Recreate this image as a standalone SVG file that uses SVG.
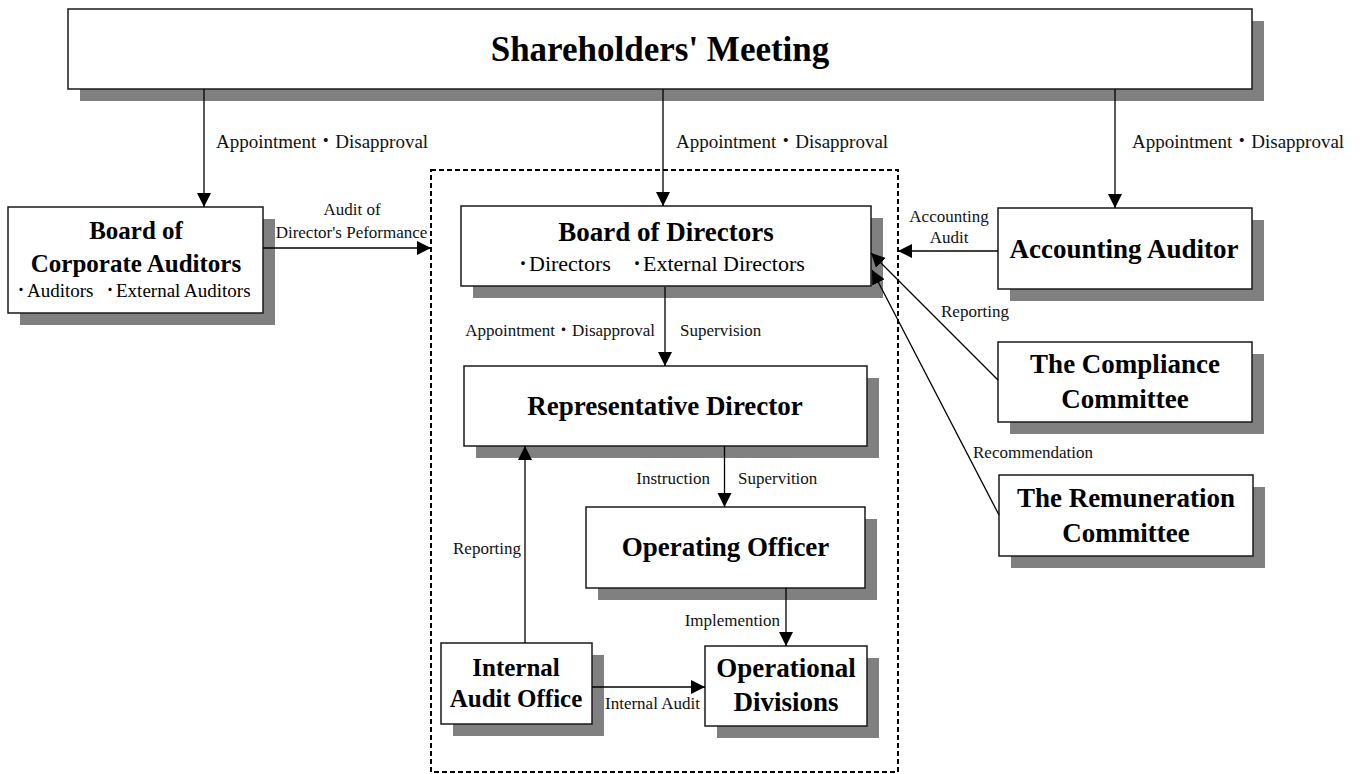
<svg xmlns="http://www.w3.org/2000/svg" width="1364" height="774" viewBox="0 0 1364 774">
  <defs>
    <style>
      .box { fill: #ffffff; stroke: #1a1a1a; stroke-width: 1.5; }
      .shadow { fill: #808080; stroke: none; }
      .title { font-family: "Liberation Serif", "Noto Sans CJK JP", serif; font-weight: bold; fill: #000; text-anchor: middle; }
      .sub { font-family: "Liberation Serif", "Noto Sans CJK JP", serif; fill: #000; }
      .dot { font-family: "Noto Sans CJK JP", "Liberation Serif", sans-serif; fill: #000; text-anchor: middle; }
      .lbl { font-family: "Liberation Serif", "Noto Sans CJK JP", serif; fill: #111; }
      .conn { stroke: #000; stroke-width: 1.3; fill: none; marker-end: url(#arrow); }
      .frame { fill: none; stroke: #000; stroke-width: 2; stroke-dasharray: 5 3; }
    </style>
    <marker id="arrow" markerUnits="userSpaceOnUse" markerWidth="15" markerHeight="15" refX="14" refY="7" orient="auto">
      <path d="M0,0 L14,7 L0,14 z" fill="#000"/>
    </marker>
  </defs>

  <rect width="1364" height="774" fill="#ffffff"/>

  <!-- dashed boundary round the executive bodies -->
  <rect class="frame" x="431" y="170" width="467" height="602"/>

  <!-- nodes -->
  <g id="shareholders">
    <rect class="shadow" x="80" y="21" width="1184" height="80"/>
    <rect class="box" x="68" y="9" width="1184" height="80"/>
    <text class="title" x="660" y="61" font-size="35">Shareholders' Meeting</text>
  </g>

  <g id="corporate-auditors">
    <rect class="shadow" x="20" y="219" width="255" height="106"/>
    <rect class="box" x="8" y="207" width="255" height="106"/>
    <text class="title" x="136" y="239" font-size="25">Board of</text>
    <text class="title" x="136" y="272" font-size="25">Corporate Auditors</text>
    <text class="dot" x="21" y="297" font-size="19">･</text>
    <text class="sub" x="27" y="297" font-size="19">Auditors</text>
    <text class="dot" x="110" y="297" font-size="19">･</text>
    <text class="sub" x="116" y="297" font-size="19">External Auditors</text>
  </g>

  <g id="board-of-directors">
    <rect class="shadow" x="473" y="218" width="410" height="80"/>
    <rect class="box" x="461" y="206" width="410" height="80"/>
    <text class="title" x="666" y="241" font-size="27">Board of Directors</text>
    <text class="dot" x="523" y="271" font-size="22">･</text>
    <text class="sub" x="529" y="271" font-size="22">Directors</text>
    <text class="dot" x="637" y="271" font-size="22">･</text>
    <text class="sub" x="643" y="271" font-size="22">External Directors</text>
  </g>

  <g id="representative-director">
    <rect class="shadow" x="476" y="378" width="403" height="80"/>
    <rect class="box" x="464" y="366" width="403" height="80"/>
    <text class="title" x="665" y="415" font-size="27">Representative Director</text>
  </g>

  <g id="operating-officer">
    <rect class="shadow" x="598" y="519" width="279" height="81"/>
    <rect class="box" x="586" y="507" width="279" height="81"/>
    <text class="title" x="725.5" y="556" font-size="27">Operating Officer</text>
  </g>

  <g id="internal-audit-office">
    <rect class="shadow" x="453" y="655" width="151" height="81"/>
    <rect class="box" x="441" y="643" width="151" height="81"/>
    <text class="title" x="516" y="676" font-size="25">Internal</text>
    <text class="title" x="516" y="707" font-size="25">Audit Office</text>
  </g>

  <g id="operational-divisions">
    <rect class="shadow" x="717" y="658" width="162" height="80"/>
    <rect class="box" x="705" y="646" width="162" height="80"/>
    <text class="title" x="786" y="677" font-size="27">Operational</text>
    <text class="title" x="786" y="711" font-size="27">Divisions</text>
  </g>

  <g id="accounting-auditor">
    <rect class="shadow" x="1010" y="220" width="254" height="81"/>
    <rect class="box" x="998" y="208" width="254" height="81"/>
    <text class="title" x="1124" y="258" font-size="27">Accounting Auditor</text>
  </g>

  <g id="compliance-committee">
    <rect class="shadow" x="1010" y="354" width="254" height="80"/>
    <rect class="box" x="998" y="342" width="254" height="80"/>
    <text class="title" x="1125" y="373" font-size="27">The Compliance</text>
    <text class="title" x="1125" y="408" font-size="27">Committee</text>
  </g>

  <g id="remuneration-committee">
    <rect class="shadow" x="1011" y="487" width="254" height="81"/>
    <rect class="box" x="999" y="475" width="254" height="81"/>
    <text class="title" x="1126" y="507" font-size="27">The Remuneration</text>
    <text class="title" x="1126" y="542" font-size="27">Committee</text>
  </g>

  <!-- connectors -->
  <g id="connectors">
    <line class="conn" x1="204" y1="89" x2="204" y2="207"/>
    <line class="conn" x1="663" y1="89" x2="663" y2="206"/>
    <line class="conn" x1="1115" y1="89" x2="1115" y2="208"/>
    <line class="conn" x1="263" y1="248" x2="431" y2="248"/>
    <line class="conn" x1="998" y1="251" x2="898" y2="251"/>
    <line class="conn" x1="998" y1="380" x2="871" y2="253"/>
    <line class="conn" x1="999" y1="515" x2="872" y2="270"/>
    <line class="conn" x1="665" y1="287" x2="665" y2="366"/>
    <line class="conn" x1="724.5" y1="446" x2="724.5" y2="507"/>
    <line class="conn" x1="786" y1="588" x2="786" y2="646"/>
    <line class="conn" x1="525" y1="643" x2="525" y2="446"/>
    <line class="conn" x1="592" y1="687" x2="705" y2="687"/>

    <text class="lbl" x="216" y="148" font-size="19">Appointment・Disapproval</text>
    <text class="lbl" x="676" y="148" font-size="19">Appointment・Disapproval</text>
    <text class="lbl" x="1132" y="148" font-size="19">Appointment・Disapproval</text>
    <text class="lbl" x="352" y="215" font-size="17" text-anchor="middle">Audit of</text>
    <text class="lbl" x="351.5" y="238" font-size="17" text-anchor="middle">Director's Peformance</text>
    <text class="lbl" x="949" y="222" font-size="17" text-anchor="middle">Accounting</text>
    <text class="lbl" x="949" y="243" font-size="17" text-anchor="middle">Audit</text>
    <text class="lbl" x="941" y="317" font-size="17">Reporting</text>
    <text class="lbl" x="973" y="458" font-size="17">Recommendation</text>
    <text class="lbl" x="655" y="336" font-size="17" text-anchor="end">Appointment・Disapproval</text>
    <text class="lbl" x="680" y="336" font-size="17">Supervision</text>
    <text class="lbl" x="710" y="484" font-size="17" text-anchor="end">Instruction</text>
    <text class="lbl" x="738" y="484" font-size="17">Supervition</text>
    <text class="lbl" x="521" y="554" font-size="17" text-anchor="end">Reporting</text>
    <text class="lbl" x="780" y="626" font-size="17" text-anchor="end">Implemention</text>
    <text class="lbl" x="605" y="709" font-size="17">Internal Audit</text>
  </g>
</svg>
